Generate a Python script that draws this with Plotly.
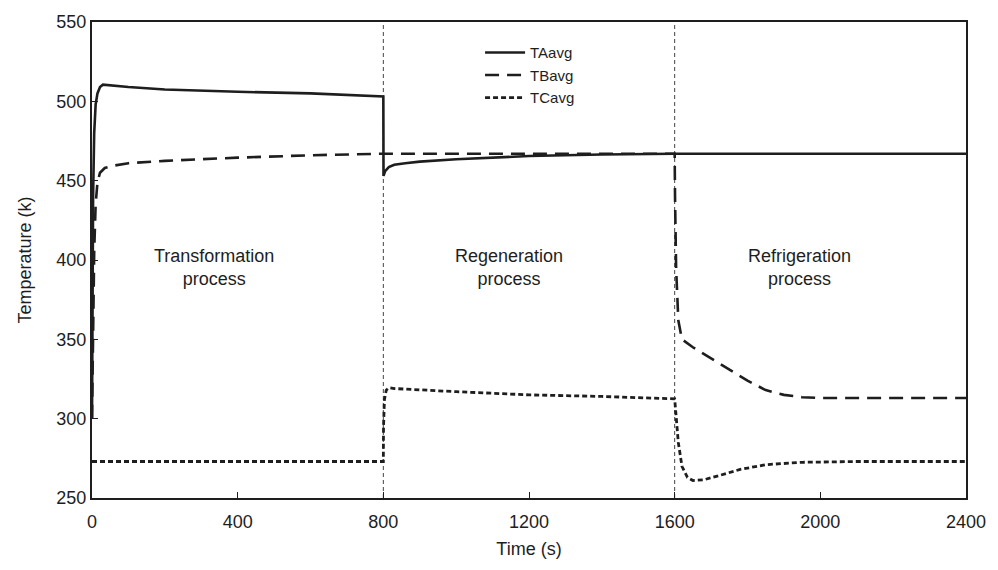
import plotly.graph_objects as go

# Average temperatures of the three beds over one cycle (K)
t_a = [0, 3, 6, 10, 15, 22, 30, 50, 100, 200, 400, 600, 800,
       800.5, 805, 815, 830, 860, 900, 1000, 1200, 1400, 1600, 2000, 2400]
temp_a = [300, 440, 480, 498, 505, 509, 510.5, 510, 509, 507.5, 506, 505, 503,
          453, 456, 458.5, 460, 461, 462, 463.5, 465.5, 466.5, 467, 467, 467]

t_b = [0, 3, 6, 10, 15, 22, 35, 60, 100, 200, 400, 600, 800, 1200, 1600,
       1601, 1604, 1610, 1620, 1650, 1700, 1750, 1800, 1850, 1900, 1950, 2000, 2200, 2400]
temp_b = [300, 360, 405, 435, 449, 455, 458, 459.5, 461, 462.5, 464.5, 466, 467, 467, 467,
          440, 395, 362, 350, 345, 338, 331, 324, 318, 315, 313.5, 313, 313, 313]

t_c = [0, 800, 800.5, 803, 808, 815, 830, 900, 1000, 1200, 1400, 1600,
       1603, 1610, 1620, 1635, 1650, 1680, 1720, 1780, 1850, 1950, 2100, 2400]
temp_c = [273, 273, 295, 312, 318, 319.5, 319, 318, 317, 315, 314, 312.5,
          305, 285, 270, 263, 261, 261.5, 264, 268, 271, 272.5, 273, 273]

series_names = ["TAavg", "TBavg", "TCavg"]
stage_bounds = [800, 1600]
stage_labels = ["Transformation<br>process", "Regeneration<br>process", "Refrigeration<br>process"]
stage_label_x = [335, 1145, 1942]
stage_label_y = [395, 395, 395]

x_ticks = [0, 400, 800, 1200, 1600, 2000, 2400]
y_ticks = [250, 300, 350, 400, 450, 500, 550]

ink = "#1e1e1e"
font_family = "Liberation Sans, Arial, sans-serif"

fig = go.Figure()
fig.add_trace(go.Scatter(x=t_a, y=temp_a, mode="lines", name=series_names[0],
                         line=dict(color=ink, width=2.6, dash="solid")))
fig.add_trace(go.Scatter(x=t_b, y=temp_b, mode="lines", name=series_names[1],
                         line=dict(color=ink, width=2.6, dash="14px,8px")))
fig.add_trace(go.Scatter(x=t_c, y=temp_c, mode="lines", name=series_names[2],
                         line=dict(color=ink, width=2.8, dash="5px,3px")))

for xb in stage_bounds:
    fig.add_shape(type="line", xref="x", yref="paper", x0=xb, x1=xb, y0=0, y1=1,
                  line=dict(color="#444444", width=1, dash="4px,3px"), layer="below")

for label, lx, ly in zip(stage_labels, stage_label_x, stage_label_y):
    fig.add_annotation(x=lx, y=ly, xref="x", yref="y", text=label, showarrow=False,
                       font=dict(size=18, color=ink, family=font_family), align="center")

fig.update_layout(
    width=998, height=570,
    margin=dict(l=92, r=25, t=17, b=72),
    paper_bgcolor="white", plot_bgcolor="white",
    font=dict(family=font_family, color=ink),
    showlegend=True,
    legend=dict(x=0.444, y=0.97, xanchor="left", yanchor="top",
                bgcolor="rgba(0,0,0,0)", font=dict(size=15, color=ink),
                itemwidth=40, tracegroupgap=0),
)
fig.update_xaxes(range=[0, 2400], tickvals=x_ticks, ticks="inside", ticklen=6,
                 tickcolor=ink, showline=True, linecolor=ink, linewidth=2, mirror=True,
                 showgrid=False, zeroline=False, tickfont=dict(size=18),
                 ticklabelstandoff=6,
                 title=dict(text="Time (s)", font=dict(size=18), standoff=12))
fig.update_yaxes(range=[250, 550], tickvals=y_ticks, ticks="inside", ticklen=6,
                 tickcolor=ink, showline=True, linecolor=ink, linewidth=2, mirror=True,
                 showgrid=False, zeroline=False, tickfont=dict(size=18),
                 title=dict(text="Temperature (k)", font=dict(size=18), standoff=20))

fig.write_html("out.html")
